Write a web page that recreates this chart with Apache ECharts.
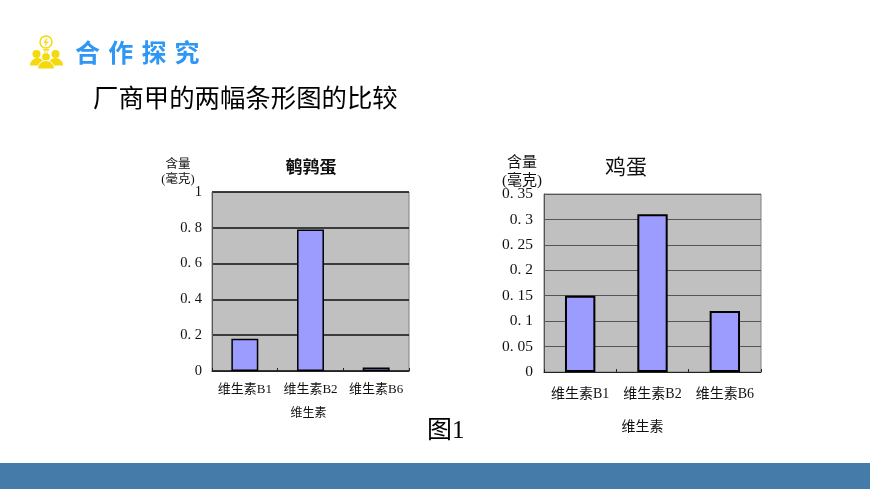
<!DOCTYPE html>
<html><head><meta charset="utf-8">
<style>html,body{margin:0;padding:0;background:#fff}#c{width:870px;height:490px}</style>
<script src="https://cdn.jsdelivr.net/npm/echarts@6/dist/echarts.min.js"></script>
</head><body><div id="c"></div>
<script>
var categories = ['维生素B1','维生素B2','维生素B6'];
var quailValues = [0.18,0.79,0.02];
var henValues = [0.15,0.31,0.12];
var quailTitle = '鹌鹑蛋', henTitle = '鸡蛋', xName = '维生素', yName = '含量\n(毫克)';
var headerChars = ['合','作','探','究'];
var FF = '"Liberation Serif","Noto Sans CJK SC",serif';
var INK = '#111';
var Y = '#F4D90C';
function fmt(v){return String(v).replace('.', '. ');}
function xAxis(i,fs,gap,nameGap,nameFs,padR){return {type:'category',gridIndex:i,data:categories,
  axisLine:{lineStyle:{color:'#222',width:1}},
  axisTick:{show:true,inside:true,length:3,lineStyle:{color:'#222'}},
  axisLabel:{fontFamily:FF,fontSize:fs,color:INK,margin:gap,interval:0},
  name:xName,nameLocation:'center',nameGap:nameGap,nameTextStyle:{fontFamily:FF,fontSize:nameFs,color:INK,padding:[0,padR,0,0]}};}
function yAxis(i,max,step,fs,gridW,gridC,m,padT){return {type:'value',gridIndex:i,min:0,max:max,interval:step,
  axisLine:{show:true,lineStyle:{color:'#555'}},axisTick:{show:false},
  axisLabel:{fontFamily:FF,fontSize:fs,color:INK,margin:m,formatter:fmt,padding:[padT,0,0,0]},
  splitLine:{show:true,lineStyle:{color:gridC,width:gridW}}};}
function bars(i,data,bw,b){return {type:'bar',xAxisIndex:i,yAxisIndex:i,data:data,barWidth:bw,
  itemStyle:{color:'#9C9CFF',borderColor:'#000',borderWidth:b},silent:true};}
var headerText = headerChars.map(function(c,i){return {type:'text',x:75+i*33.2,y:40,style:{text:c,fontFamily:'"Noto Sans CJK SC"',fontSize:25,fontWeight:'bold',fill:'#2E96F5'}};});
var option = {animation:false,backgroundColor:'#fff',
 title:[
  {text:quailTitle,left:306,top:155,textAlign:'center',textStyle:{fontFamily:FF,fontSize:17,fontWeight:'bold',color:'#111'}},
  {text:henTitle,left:621,top:153,textAlign:'center',textStyle:{fontFamily:FF,fontSize:21,fontWeight:'normal',color:'#111'}},
  {text:yName,left:173,top:152,textAlign:'center',textStyle:{fontFamily:FF,fontSize:12.5,fontWeight:'normal',color:INK,lineHeight:15}},
  {text:yName,left:517,top:149,textAlign:'center',textStyle:{fontFamily:FF,fontSize:15,fontWeight:'normal',color:INK,lineHeight:18}}
 ],
 grid:[
  {left:212,top:192,width:197,height:179,show:true,backgroundColor:'#C0C0C0',borderColor:'#808080',borderWidth:1},
  {left:544,top:194,width:217,height:178,show:true,backgroundColor:'#C0C0C0',borderColor:'#808080',borderWidth:1}
 ],
 xAxis:[xAxis(0,13,12,37,12,4),xAxis(1,14,15,48,14,20)],
 yAxis:[yAxis(0,1,0.2,14.5,1.5,'#111',10,0),yAxis(1,0.35,0.05,15.5,1,'#555',11,3)],
 series:[bars(0,quailValues,'41%',1.5),bars(1,henValues,'42%',2)],
 graphic:[
  {type:'rect',shape:{x:0,y:463,width:870,height:26},style:{fill:'#457BA9'},silent:true},
  {type:'text',x:93,y:88,style:{text:'厂商甲的两幅条形图的比较',fontFamily:FF,fontSize:25.4,fill:'#000'}},
  {type:'text',x:427,y:419,style:{text:'图1',fontFamily:FF,fontSize:25,fill:'#000'}},
  {type:'circle',shape:{cx:46,cy:42,r:6},style:{fill:'none',stroke:Y,lineWidth:1.5}},
  {type:'polyline',shape:{points:[[47,38.5],[44.5,42.5],[47.5,42],[45,45.5]]},style:{fill:'none',stroke:Y,lineWidth:1.2}},
  {type:'rect',shape:{x:43,y:49,width:6,height:1.5},style:{fill:Y}},
  {type:'rect',shape:{x:44,y:51.5,width:4,height:1.5},style:{fill:Y}},
  {type:'circle',shape:{cx:36.5,cy:54,r:4},style:{fill:Y}},
  {type:'circle',shape:{cx:55.5,cy:54,r:4},style:{fill:Y}},
  {type:'sector',shape:{cx:37.5,cy:65.5,r:7.5,r0:0,startAngle:Math.PI,endAngle:2*Math.PI},style:{fill:Y}},
  {type:'sector',shape:{cx:55.5,cy:65.5,r:7.5,r0:0,startAngle:Math.PI,endAngle:2*Math.PI},style:{fill:Y}},
  {type:'circle',shape:{cx:46,cy:57,r:4.4},style:{fill:Y,stroke:'#fff',lineWidth:1}},
  {type:'sector',shape:{cx:46,cy:69,r:8.5,r0:0,startAngle:Math.PI,endAngle:2*Math.PI},style:{fill:Y,stroke:'#fff',lineWidth:1}}
 ].concat(headerText)};
echarts.init(document.getElementById('c'),null,{renderer:'canvas'}).setOption(option);
</script></body></html>
